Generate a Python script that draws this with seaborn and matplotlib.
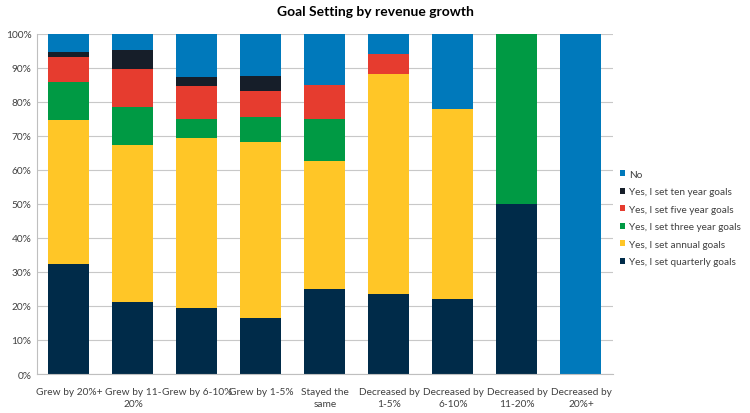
import pandas as pd
import matplotlib
matplotlib.use("Agg")
import matplotlib.pyplot as plt
import seaborn as sns
from matplotlib.patches import Patch
from matplotlib.ticker import PercentFormatter

CATEGORIES = [
    "Grew by 20%+",
    "Grew by 11-\n20%",
    "Grew by 6-10%",
    "Grew by 1-5%",
    "Stayed the\nsame",
    "Decreased by\n1-5%",
    "Decreased by\n6-10%",
    "Decreased by\n11-20%",
    "Decreased by\n20%+",
]

# legend order, top to bottom (seaborn stacks the last level at the bottom)
ANSWERS = [
    "No",
    "Yes, I set ten year goals",
    "Yes, I set five year goals",
    "Yes, I set three year goals",
    "Yes, I set annual goals",
    "Yes, I set quarterly goals",
]
COLORS = ["#0079BB", "#161E29", "#E63C2F", "#009A44", "#FFC627", "#002B49"]

no_goals   = [5.4, 4.6, 12.6, 12.4, 15.0, 5.9, 22.2, 0.0, 100.0]
ten_year   = [1.5, 5.6, 2.8, 4.4, 0.0, 0.0, 0.0, 0.0, 0.0]
five_year  = [7.3, 11.3, 9.7, 7.5, 10.0, 5.9, 0.0, 0.0, 0.0]
three_year = [11.2, 11.1, 5.6, 7.6, 12.5, 0.0, 0.0, 50.0, 0.0]
annual     = [42.3, 46.1, 50.0, 51.5, 37.5, 64.7, 55.6, 0.0, 0.0]
quarterly  = [32.3, 21.3, 19.3, 16.6, 25.0, 23.5, 22.2, 50.0, 0.0]

series = [no_goals, ten_year, five_year, three_year, annual, quarterly]
rows = []
for answer, vals in zip(ANSWERS, series):
    for cat, v in zip(CATEGORIES, vals):
        rows.append({"growth": cat, "answer": answer, "pct": v})
df = pd.DataFrame(rows)
df["growth"] = pd.Categorical(df["growth"], categories=CATEGORIES, ordered=True)

sns.set_style("white")
plt.rcParams["font.family"] = ["Lato", "DejaVu Sans"]

fig = plt.figure(figsize=(7.5, 4.14), dpi=100)
ax = fig.add_axes([0.0493, 0.0942, 0.7680, 0.8213])

sns.histplot(
    data=df, x="growth", weights="pct", hue="answer", hue_order=ANSWERS,
    palette=COLORS, multiple="stack", discrete=True, shrink=0.64,
    alpha=1, edgecolor="none", linewidth=0, legend=False, ax=ax,
)

ax.set_ylim(0, 100)
ax.set_xlim(-0.5, len(CATEGORIES) - 0.5)
ax.set_yticks(range(0, 101, 10))
ax.yaxis.set_major_formatter(PercentFormatter(100, decimals=0))
ax.set_xlabel("")
ax.set_ylabel("")
ax.grid(axis="y", color="#c8c8c8", linewidth=0.8)
ax.set_axisbelow(True)
for side in ["top", "right"]:
    ax.spines[side].set_visible(False)
for side in ["left", "bottom"]:
    ax.spines[side].set_color("#bfbfbf")
ax.tick_params(axis="y", length=0, labelsize=7.3, colors="#404040", pad=4)
ax.tick_params(axis="x", length=0, labelsize=7.3, colors="#404040", pad=9)
ax.set_xticks(range(len(CATEGORIES)))
ax.set_xticklabels(CATEGORIES, linespacing=1.55)

fig.suptitle("Goal Setting by revenue growth", x=0.5, y=0.985,
             fontsize=10, fontweight="bold", color="#000000")

handles = [Patch(facecolor=c, edgecolor="none") for c in COLORS]
fig.legend(handles, ANSWERS, loc="center left", bbox_to_anchor=(0.826, 0.471),
           frameon=False, fontsize=7.2, handlelength=0.55, handleheight=0.55,
           handletextpad=0.4, labelspacing=0.85, labelcolor="#404040",
           borderpad=0, borderaxespad=0)

fig.savefig("out.png", dpi=100)
